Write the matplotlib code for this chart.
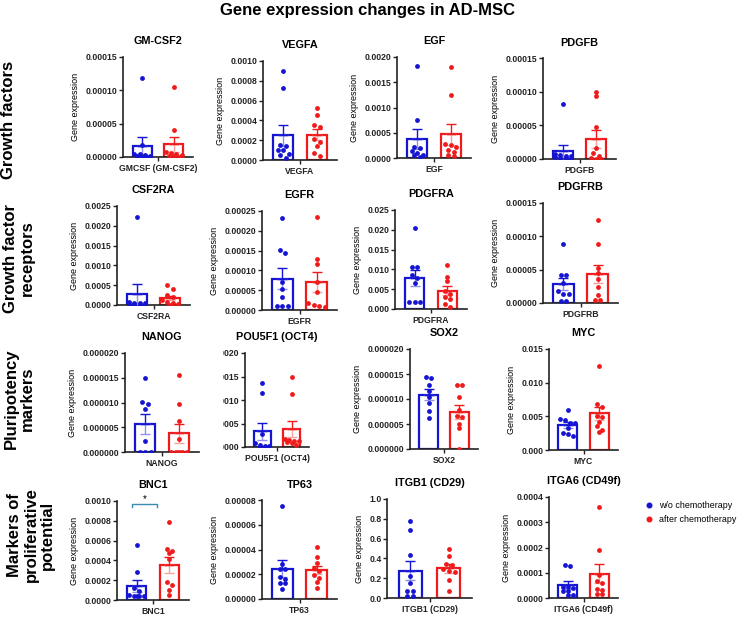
import numpy as np
import matplotlib.pyplot as plt
from matplotlib.lines import Line2D
from matplotlib.transforms import Bbox

plt.rcParams['font.family'] = ['Liberation Sans', 'DejaVu Sans']

genes = ['GM-CSF2', 'VEGFA', 'EGF', 'PDGFB', 'CSF2RA', 'EGFR', 'PDGFRA', 'PDGFRB',
         'NANOG', 'POU5F1 (OCT4)', 'SOX2', 'MYC', 'BNC1', 'TP63', 'ITGB1 (CD29)', 'ITGA6 (CD49f)']
x_names = ['GMCSF (GM-CSF2)', 'VEGFA', 'EGF', 'PDGFB', 'CSF2RA', 'EGFR', 'PDGFRA', 'PDGFRB',
           'NANOG', 'POU5F1 (OCT4)', 'SOX2', 'MYC', 'BNC1', 'TP63', 'ITGB1 (CD29)', 'ITGA6 (CD49f)']
groups = ['w/o chemotherapy', 'after chemotherapy']
row_names = ['Growth factors', 'Growth factor\nreceptors', 'Pluripotency\nmarkers',
             'Markers of\nproliferative\npotential']

# y axis top, tick step and decimals of each panel
y_top = [0.00015, 0.001, 0.002, 0.00015, 0.0025, 0.00025, 0.025, 0.00015,
         0.00002, 0.00002, 0.00002, 0.015, 0.001, 0.00008, 1.0, 0.0004]
y_step = [0.00005, 0.0002, 0.0005, 0.00005, 0.0005, 0.00005, 0.005, 0.00005,
          0.000005, 0.000005, 0.000005, 0.005, 0.0002, 0.00002, 0.2, 0.0001]
y_dec = [5, 4, 4, 5, 4, 5, 3, 5, 6, 6, 6, 3, 4, 5, 1, 4]

# gene expression per sample: (w/o chemotherapy, after chemotherapy)
gmcsf2 = ([1.18e-4, 1.8e-5, 5e-6, 4e-6, 3e-6, 2e-6, 1e-6, 0.5e-6, 0],
          [1.05e-4, 4.0e-5, 8e-6, 6e-6, 5e-6, 3e-6, 2e-6, 1e-6, 0])
vegfa = ([8.96e-4, 7.25e-4, 1.51e-4, 1.44e-4, 1.04e-4, 1.0e-4, 6.4e-5, 4.7e-5, 2.3e-5],
         [5.23e-4, 4.5e-4, 3.56e-4, 3.29e-4, 2.11e-4, 1.85e-4, 1.44e-4, 7.0e-5, 3.7e-5])
egf = ([1.82e-3, 7.6e-4, 2.2e-4, 2.0e-4, 1.4e-4, 1.0e-4, 6e-5, 5e-5, 2e-5],
       [1.81e-3, 1.25e-3, 2.7e-4, 2.6e-4, 2.2e-4, 1.6e-4, 1.2e-4, 6e-5, 4e-5])
pdgfb = ([8.2e-5, 8e-6, 6e-6, 5e-6, 4e-6, 3e-6, 2e-6, 1e-6, 0],
         [1.0e-4, 9.3e-5, 4.8e-5, 1.7e-5, 8.4e-6, 4.5e-6, 1.5e-6, 0.5e-6, 0])
csf2ra = ([2.22e-3, 8e-5, 6e-5, 5e-5, 4e-5, 3e-5, 2e-5, 1e-5, 1e-5],
          [5.0e-4, 4.0e-4, 2.4e-4, 1.9e-4, 1.2e-4, 8e-5, 5e-5, 3e-5, 1e-5])
egfr = ([2.33e-4, 1.52e-4, 1.44e-4, 7.0e-5, 5.2e-5, 3.3e-5, 1e-5, 1e-5, 1e-5],
        [2.35e-4, 1.3e-4, 1.15e-4, 7.0e-5, 4.5e-5, 1.8e-5, 1.2e-5, 1e-5, 8e-6])
pdgfra = ([0.0204, 0.0107, 0.0107, 0.0086, 0.0079, 0.0065, 0.0017, 0.0017, 0.0017],
          [0.011, 0.0082, 0.007, 0.0045, 0.0037, 0.003, 0.0025, 0.0013, 0.0006])
pdgfrb = ([8.9e-5, 4.15e-5, 4.15e-5, 3.0e-5, 1.8e-5, 1.4e-5, 1.4e-5, 2.5e-6, 2.5e-6],
          [1.24e-4, 8.8e-5, 5.25e-5, 4.43e-5, 3.67e-5, 2.4e-5, 1.16e-5, 4e-6, 4e-6])
nanog = ([1.49e-5, 1.02e-5, 9.7e-6, 8.6e-6, 2.3e-6, 0, 0, 0],
         [1.56e-5, 9.7e-6, 6.2e-6, 2.6e-6, 0, 0, 0, 0, 0])
pou5f1 = ([1.37e-5, 1.14e-5, 2.8e-6, 0.8e-6, 0.5e-6, 0.3e-6, 0.2e-6, 0.1e-6, 0],
          [1.5e-5, 1.13e-5, 1.8e-6, 1.5e-6, 1.3e-6, 1.2e-6, 1.0e-6, 0.8e-6, 0.5e-6])
sox2 = ([1.44e-5, 1.42e-5, 1.29e-5, 1.16e-5, 1.05e-5, 9.3e-6, 7.6e-6, 6.2e-6],
        [1.29e-5, 1.29e-5, 1.04e-5, 7.9e-6, 6.6e-6, 6.4e-6, 5.0e-6, 4.2e-6, 0])
myc = ([0.006, 0.0046, 0.0044, 0.004, 0.004, 0.0032, 0.0025, 0.0024, 0.0021],
       [0.0125, 0.0068, 0.0064, 0.005, 0.0049, 0.0042, 0.0035, 0.003, 0.0027])
bnc1 = ([5.54e-4, 2.8e-4, 1.2e-4, 9e-5, 5e-5, 4.5e-5, 4.5e-5, 4e-5, 4e-5],
        [7.9e-4, 5.2e-4, 5.0e-4, 4.7e-4, 4.1e-4, 1.8e-4, 1.5e-4, 1.0e-4, 5e-5])
tp63 = ([7.55e-5, 2.8e-5, 2.4e-5, 2.4e-5, 1.8e-5, 1.65e-5, 1.27e-5, 1.27e-5, 8e-6],
        [4.17e-5, 3.38e-5, 2.9e-5, 2.5e-5, 2.3e-5, 1.93e-5, 1.66e-5, 1.4e-5, 8.7e-6])
itgb1 = ([0.778, 0.688, 0.435, 0.223, 0.156, 0.07, 0.07, 0.023, 0.023],
         [0.495, 0.429, 0.346, 0.336, 0.296, 0.272, 0.262, 0.18, 0.073])
itga6 = ([1.3e-4, 1.28e-4, 4.5e-5, 4.2e-5, 4.0e-5, 2.8e-5, 2.6e-5, 1.2e-5, 1.0e-5],
         [3.6e-4, 1.92e-4, 9.1e-5, 6.8e-5, 5.8e-5, 3.6e-5, 3.2e-5, 1.5e-5, 1.5e-5])

panel_data = [gmcsf2, vegfa, egf, pdgfb, csf2ra, egfr, pdgfra, pdgfrb,
              nanog, pou5f1, sox2, myc, bnc1, tp63, itgb1, itga6]

# panel boxes in pixels: left spine, top, bottom, right end
boxes = [(123, 57, 157, 193), (263, 61, 160, 337), (397, 57, 158, 471), (543, 58, 159, 616),
         (117, 206, 305, 190), (262, 211, 310, 337), (395, 210, 309, 467), (543, 203, 303, 618),
         (125, 353, 452, 199), (245, 353, 447, 309), (410, 349, 449, 478), (549, 349, 450, 618),
         (117, 501, 600, 189), (262, 500, 599, 337), (387, 499, 598, 472), (549, 497, 598, 618)]

colors = ['#1414d2', '#f01a1a']
light = ['#8f8ff0', '#f7a0a0']
W, H = 740, 621


def spread(vals, ymax):
    vals = np.asarray(vals)
    order = np.argsort(vals)[::-1]
    offs = np.zeros(len(vals))
    cluster = []

    def flush(cl):
        for j, idx in enumerate(cl):
            offs[idx] = (j - (len(cl) - 1) / 2) * 0.16

    for idx in order:
        if cluster and (vals[cluster[0]] - vals[idx] > 0.04 * ymax or len(cluster) == 4):
            flush(cluster)
            cluster = []
        cluster.append(idx)
    flush(cluster)
    return offs


fig = plt.figure(figsize=(W / 100, H / 100), dpi=100)

for p, gene in enumerate(genes):
    L, T, B, R = boxes[p]
    ax = fig.add_axes([L / W, 1 - B / H, (R - L) / W, (B - T) / H])
    for g in range(2):
        vals = np.array(panel_data[p][g])
        m = vals.mean()
        sem = vals.std(ddof=1) / np.sqrt(len(vals))
        ax.bar(g, m, width=0.6, facecolor='white', edgecolor=colors[g], linewidth=1.6, zorder=2)
        ax.errorbar(g, m, yerr=[[sem], [0]], color=light[g], capsize=3.5, elinewidth=1, capthick=1, zorder=3)
        ax.errorbar(g, m, yerr=[[0], [sem]], color=colors[g], capsize=3.5, elinewidth=1, capthick=1, zorder=3)
        ax.scatter(g + spread(vals, y_top[p]), vals, s=12, color=colors[g], linewidths=0, zorder=4)

    ax.set_xlim(-0.6, 1.6)
    ax.set_ylim(0, y_top[p])
    ticks = np.arange(0, y_top[p] + y_step[p] / 2, y_step[p])
    ax.set_yticks(ticks)
    ax.set_yticklabels([f'{t:.{y_dec[p]}f}' for t in ticks], fontweight='bold', fontsize=6.2)
    ax.set_xticks([0.5])
    ax.set_xticklabels([x_names[p]], fontweight='bold', fontsize=6.2)
    ax.tick_params(axis='y', length=3, width=1, pad=1, colors='#222222')
    ax.tick_params(axis='x', length=3, width=1, pad=2, colors='#222222')
    for s in ['top', 'right']:
        ax.spines[s].set_visible(False)
    for s in ['left', 'bottom']:
        ax.spines[s].set_linewidth(1.2)
        ax.spines[s].set_color('#222222')
    ax.set_title(gene, fontweight='bold', fontsize=7.8, pad=9)
    if gene.startswith('POU5F1'):
        # the pasted panel is cut on its left side
        clip = Bbox.from_extents(223, 0, W, H)
        for lab in ax.get_yticklabels():
            lab.set_clip_box(clip)
            lab.set_clip_on(True)
    else:
        ax.set_ylabel('Gene expression', fontsize=6.5, labelpad=4)

    if gene == 'BNC1':
        ax.plot([-0.15, -0.15, 0.62, 0.62], [0.00094, 0.000966, 0.000966, 0.00094],
                color='#3a8db0', lw=1, clip_on=False, zorder=5)
        ax.text(0.24, 0.00097, '*', ha='center', va='bottom', fontsize=7, clip_on=False)

fig.text(367 / W, 1 - 10 / H, 'Gene expression changes in AD-MSC', ha='center', va='center',
         fontsize=12, fontweight='bold')

row_pos = [(9, 120), (19, 258), (19, 399), (31, 535)]
for name, (x, y) in zip(row_names, row_pos):
    fig.text(x / W, 1 - y / H, name, rotation=90, ha='center', va='center', multialignment='center',
             fontsize=12, fontweight='bold', linespacing=1.1)

handles = [Line2D([], [], marker='o', ls='none', color=c, markersize=3.3) for c in colors]
fig.legend(handles, groups, loc='upper left', bbox_to_anchor=(640 / W, 1 - 497 / H), frameon=False,
           fontsize=6.4, handletextpad=0.6, labelspacing=0.5, borderpad=0, handlelength=1)

fig.savefig('out.png', dpi=100)
